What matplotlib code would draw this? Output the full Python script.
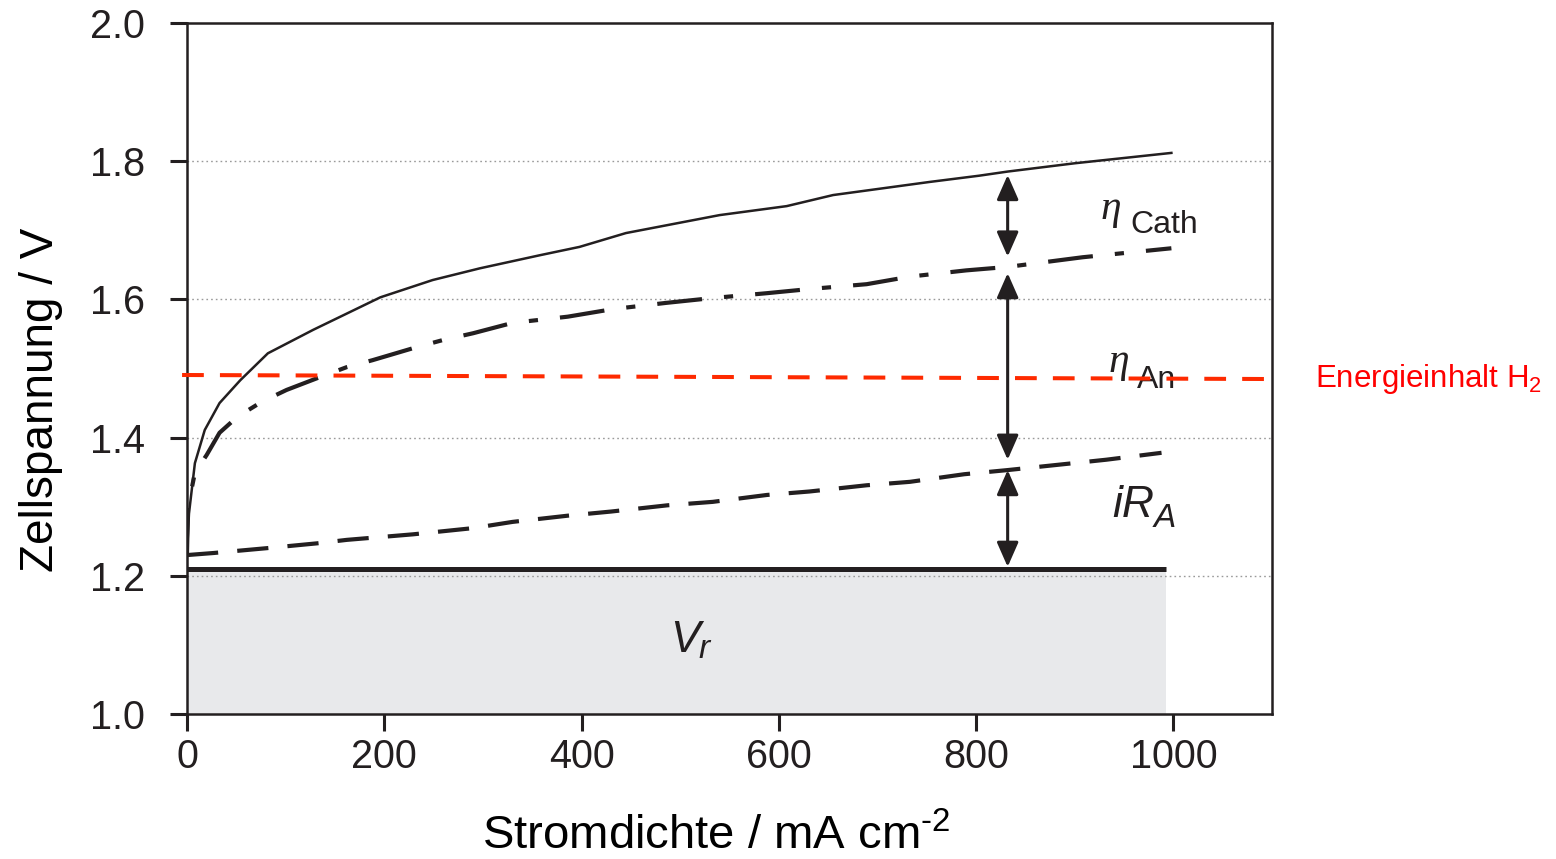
import matplotlib
matplotlib.use("Agg")
import matplotlib.pyplot as plt

plt.rcParams['font.family'] = ['Liberation Sans', 'DejaVu Sans']
plt.rcParams['mathtext.fontset'] = 'custom'
plt.rcParams['mathtext.rm'] = 'Liberation Sans'
plt.rcParams['mathtext.it'] = 'Liberation Sans:italic'

# ---- data ----
x_cell = [0, 2, 8, 18, 33, 54, 82, 128, 196, 249, 297, 358, 398, 445, 540, 608, 655, 753, 803, 832, 900, 998]
y_cell = [1.233, 1.29, 1.363, 1.411, 1.450, 1.483, 1.522, 1.556, 1.603, 1.628, 1.645, 1.664, 1.676,
          1.696, 1.722, 1.735, 1.751, 1.770, 1.779, 1.785, 1.797, 1.812]

x_an = [0, 1, 8, 20, 33, 51, 76, 101, 132, 162, 188, 233, 259, 290, 330, 386, 432, 486, 533, 588,
        631, 689, 733, 790, 832, 908, 998]
y_an = [1.233, 1.30, 1.349, 1.375, 1.407, 1.430, 1.452, 1.469, 1.486, 1.502, 1.512, 1.531, 1.541,
        1.551, 1.566, 1.575, 1.586, 1.595, 1.602, 1.609, 1.615, 1.622, 1.633, 1.642, 1.647, 1.661, 1.674]

x_ir = [0, 27, 81, 132, 162, 229, 290, 330, 386, 430, 487, 533, 588, 631, 689, 733, 788, 832, 932, 988]
y_ir = [1.230, 1.233, 1.240, 1.247, 1.252, 1.260, 1.269, 1.278, 1.287, 1.293, 1.302, 1.307, 1.317,
        1.322, 1.331, 1.336, 1.347, 1.353, 1.368, 1.378]

v_rev = 1.21
x_rev = [0, 993]

x_energy = [-5, 1092]
y_energy = [1.4906, 1.4848]

x_arrow = 832
arrow_spans = [(1.780, 1.662), (1.638, 1.368), (1.353, 1.213)]

x_ticks = [0, 200, 400, 600, 800, 1000]
y_ticks = [1.0, 1.2, 1.4, 1.6, 1.8, 2.0]
y_grid = [1.2, 1.4, 1.6, 1.8]

ink = '#231f20'
eta_font = ['Liberation Serif', 'DejaVu Serif']

fig = plt.figure(figsize=(15.56, 8.59), dpi=100)
ax = fig.add_axes([187/1556, 1-714/859, (1272-187)/1556, (714-23)/859])
ax.set_xlim(0, 1100)
ax.set_ylim(1.0, 2.0)

# reversible voltage area
ax.fill_between(x_rev, 1.0, v_rev, color='#e8e9eb', lw=0, zorder=1)

for g in y_grid:
    ax.axhline(g, color='#9a9a9a', lw=1.0, ls=(0, (1.2, 2.2)), zorder=1.5)

ax.plot(x_rev, [v_rev, v_rev], color=ink, lw=3.6, solid_capstyle='butt', zorder=3)

ax.plot(x_ir, y_ir, color=ink, lw=3.0, dashes=(7.5, 4.6), zorder=3)
ax.plot(x_an, y_an, color=ink, lw=3.0, dashes=(10.8, 5.3, 2.2, 5.3), zorder=3)
ax.plot(x_cell, y_cell, color=ink, lw=1.8, zorder=3)

ax.plot(x_energy, y_energy, color='#fe2a00', lw=2.9, dashes=(5.4, 4.0), zorder=4, clip_on=False)

for y0, y1 in arrow_spans:
    ax.annotate('', xy=(x_arrow, y1), xytext=(x_arrow, y0),
                arrowprops=dict(arrowstyle='<|-|>,head_length=0.75,head_width=0.33',
                                color=ink, lw=2.2, shrinkA=0, shrinkB=0, mutation_scale=20),
                zorder=5)

# labels in the plot
ax.text(926, 1.7165, 'η', fontsize=30, style='italic', family=eta_font, color=ink,
        ha='left', va='baseline')
ax.text(956, 1.696, 'Cath', fontsize=23, color=ink, ha='left', va='baseline')
ax.text(934, 1.4945, 'η', fontsize=30, style='italic', family=eta_font, color=ink,
        ha='left', va='baseline')
ax.text(963, 1.472, 'An', fontsize=23, color=ink, ha='left', va='baseline')
ax.text(938, 1.285, 'iR', fontsize=32, style='italic', color=ink, ha='left', va='baseline')
ax.text(980, 1.271, 'A', fontsize=24, style='italic', color=ink, ha='left', va='baseline')
ax.text(490, 1.0897, 'V', fontsize=32, style='italic', color=ink, ha='left', va='baseline')
ax.text(519, 1.081, 'r', fontsize=24, style='italic', color=ink, ha='left', va='baseline')

fig.text(1315/1556, 1-387/859, r'Energieinhalt H$_{\mathregular{2}}$', fontsize=22.5,
         color='#ff0000', ha='left', va='baseline')

# axes styling
ax.set_xticks(x_ticks)
ax.set_xticklabels([str(v) for v in x_ticks])
ax.set_yticks(y_ticks)
ax.set_yticklabels([f'{v:.1f}' for v in y_ticks])
ax.tick_params(axis='both', direction='out', length=12.5, width=2.2, color=ink,
               labelsize=28.5, labelcolor=ink)
ax.tick_params(axis='y', pad=18)
ax.tick_params(axis='x', pad=5)
for s in ax.spines.values():
    s.set_linewidth(1.8)
    s.set_color(ink)

ax.set_xlabel('Stromdichte / mA cm$^{\\mathregular{\u2010 2}}$', fontsize=34, color='black')
ax.xaxis.label.set_va('baseline')
ax.xaxis.set_label_coords((716-187)/1085, (714-849)/691)
ax.set_ylabel('Zellspannung / V', fontsize=33, color='black')
ax.yaxis.label.set_va('baseline')
ax.yaxis.set_label_coords((53-187)/1085, 1-(400-23)/691)

fig.savefig('out.png', dpi=100)
